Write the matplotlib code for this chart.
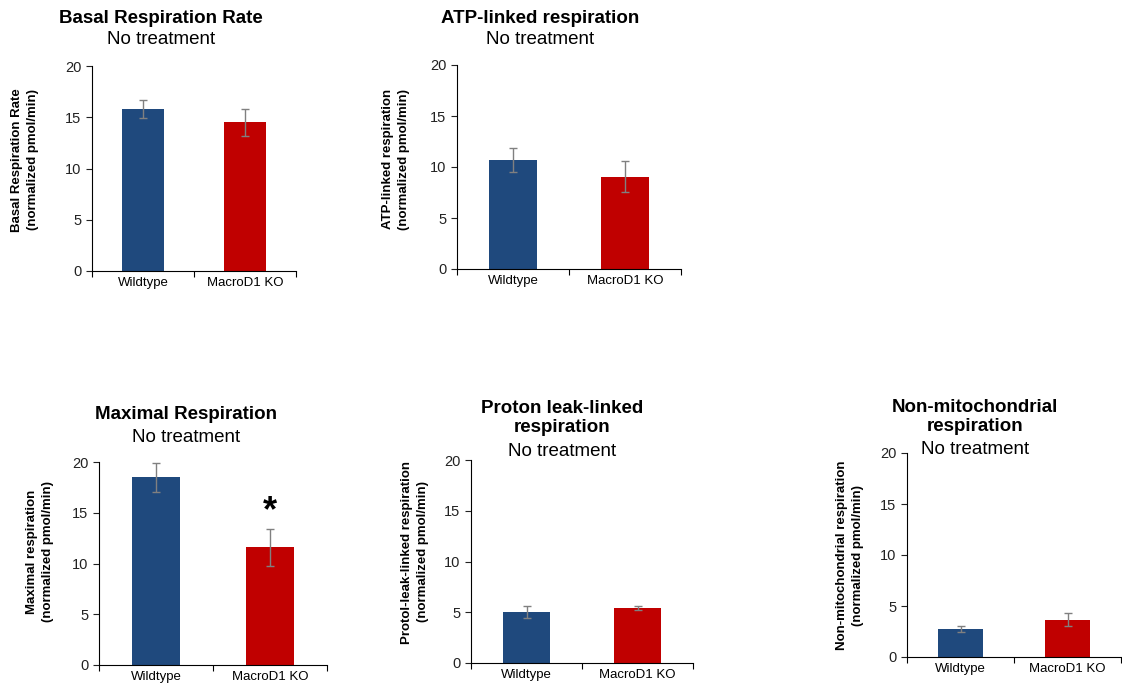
import numpy as np
import matplotlib.pyplot as plt

plt.rcParams['font.family'] = ['Liberation Sans', 'DejaVu Sans']

groups = ['Wildtype', 'MacroD1 KO']
colors = ['#1F497D', '#C00000']

titles = ['Basal Respiration Rate', 'ATP-linked respiration', 'Maximal Respiration',
          'Proton leak-linked\nrespiration', 'Non-mitochondrial\nrespiration']
ylabels = ['Basal Respiration Rate\n(normalized pmol/min)',
           'ATP-linked respiration\n(normalized pmol/min)',
           'Maximal respiration\n(normalized pmol/min)',
           'Protol-leak-linked respiration\n(normalized pmol/min)',
           'Non-mitochondrial respiration\n(normalized pmol/min)']
means = [[15.8, 14.5], [10.7, 9.05], [18.5, 11.6], [5.05, 5.45], [2.75, 3.65]]
errs = [[0.9, 1.35], [1.2, 1.5], [1.45, 1.8], [0.6, 0.2], [0.3, 0.65]]
signif = [False, False, True, False, False]

W, H = 1122, 683
fig = plt.figure(figsize=(W / 100, H / 100), dpi=100)

# axes boxes in pixels: left, right, top(y of 20), bottom(y of 0)
boxes = [(92, 296, 66, 271), (457, 681, 65, 269), (99, 327, 462, 665),
         (471, 693, 460, 663), (907, 1121, 453, 657)]
# title positions (x center, y of first line) and ylabel positions
title_pos = [(161, 18), (540, 18), (186, 414), (562, 408), (975, 407)]
sub_y = [40, 40, 437, 451, 449]
ylab_pos = [(25, 160), (396, 159), (40, 552), (415, 552), (850, 555)]

for i in range(5):
    l, r, t, b = boxes[i]
    ax = fig.add_axes([l / W, 1 - b / H, (r - l) / W, (b - t) / H])
    x = np.arange(2)
    ax.bar(x, means[i], width=0.42, color=colors)
    ax.errorbar(x, means[i], yerr=errs[i], fmt='none', ecolor='#808080',
                elinewidth=1, capsize=3, capthick=1)
    ax.set_xlim(-0.5, 1.5)
    ax.set_ylim(0, 20)
    ax.set_yticks([0, 5, 10, 15, 20])
    ax.set_xticks([-0.5, 0.5, 1.5])
    ax.set_xticklabels([])
    ax.set_xticks(x, minor=True)
    ax.set_xticklabels(groups, minor=True)
    ax.tick_params(axis='x', which='minor', length=0, labelsize=9.5, pad=4)
    ax.tick_params(axis='x', which='major', length=4, width=0.8)
    ax.tick_params(axis='y', length=4, width=0.8, labelsize=10.5, colors='#222222')
    for s in ['top', 'right']:
        ax.spines[s].set_visible(False)
    for s in ['left', 'bottom']:
        ax.spines[s].set_linewidth(0.8)
    if signif[i]:
        ax.text(1, 15.1, '*', ha='center', va='center', fontsize=26, fontweight='bold')

    tx, ty = title_pos[i]
    fig.text(tx / W, 1 - (ty - 8) / H, titles[i], ha='center', va='top',
             fontsize=13.5, fontweight='bold', linespacing=1.18)
    fig.text(tx / W, 1 - sub_y[i] / H, 'No treatment', ha='center', va='center', fontsize=13.5)
    yx, yy = ylab_pos[i]
    fig.text(yx / W, 1 - yy / H, ylabels[i], rotation=90, ha='center', va='center',
             fontsize=9.5, fontweight='bold', multialignment='center', linespacing=1.35)

fig.savefig('out.png', dpi=100)
